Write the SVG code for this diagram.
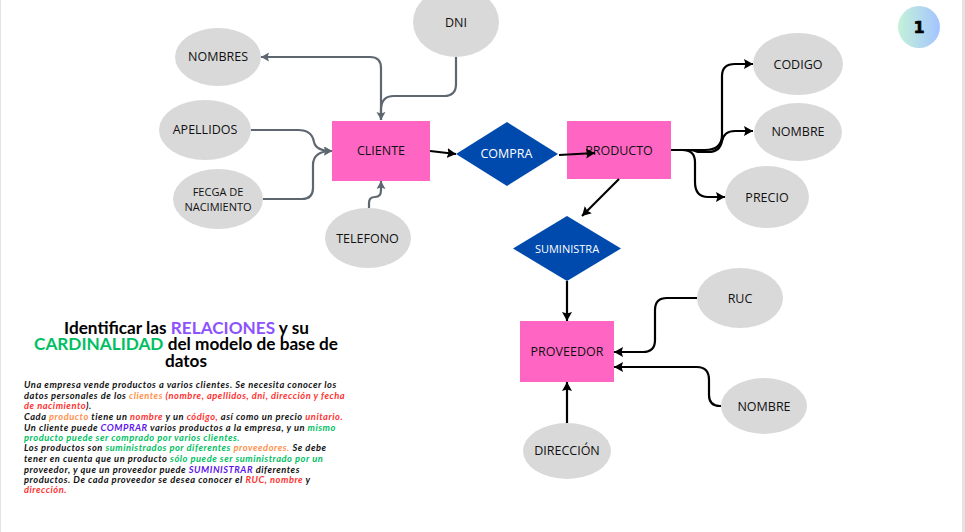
<svg xmlns="http://www.w3.org/2000/svg" width="965" height="532" viewBox="0 0 965 532">
<style>
.attr{fill:#d9d9d9}
.ent{fill:#ff66c4}
.rel{fill:#004aad}
.lb{font-family:"Open Sans",sans-serif;font-size:12.5px;fill:#111;text-anchor:middle}
.lw{font-family:"Open Sans",sans-serif;font-size:12.5px;fill:#fff;text-anchor:middle}
.c{fill:none;stroke-width:2.2;stroke-linejoin:round}
.g{stroke:#5e6770;marker-end:url(#ag)}
.k{stroke:#000;marker-end:url(#ak)}
.h{font-family:Lato,sans-serif;font-weight:700;font-size:17.2px;fill:#000;text-anchor:middle}
.b{font-family:Lato,sans-serif;font-weight:700;font-style:italic;font-size:9.3px;letter-spacing:.53px;fill:#111}
.o{fill:#ff914d}.r{fill:#ff3131}.p{fill:#5e17eb}.v{fill:#00bf63}
</style>
<defs>
<marker id="ag" markerUnits="userSpaceOnUse" markerWidth="10" markerHeight="11" refX="8" refY="4.500" orient="auto"><path d="M0 0L8 4.500L0 9L1.500 4.500Z" fill="#5e6770"/></marker>
<marker id="ak" markerUnits="userSpaceOnUse" markerWidth="11" markerHeight="11" refX="9" refY="5" orient="auto"><path d="M0 0L9 5L0 10L1.500 5Z" fill="#000"/></marker>
<linearGradient id="bd"><stop offset="0" stop-color="#c4f2d8"/><stop offset="1" stop-color="#a3c4ff"/></linearGradient>
</defs>
<rect width="965" height="532" fill="#fff"/>
<rect x="962" width="3" height="532" fill="#e3e3e3"/>
<rect width="1" height="532" fill="#e3e3e3"/>
<g id="n-nombres"><ellipse class="attr" cx="218" cy="57" rx="43" ry="29"/><text class="lb" x="218" y="61">NOMBRES</text></g>
<g id="n-dni"><ellipse class="attr" cx="456" cy="22" rx="43" ry="35"/><text class="lb" x="456" y="27">DNI</text></g>
<g id="n-apellidos"><ellipse class="attr" cx="205" cy="130" rx="46" ry="30"/><text class="lb" x="205" y="134">APELLIDOS</text></g>
<g id="n-fecga"><ellipse class="attr" cx="218" cy="199" rx="45" ry="30"/><text class="lb" style="font-size:11px" x="218" y="196">FECGA DE</text><text class="lb" style="font-size:11px" x="218" y="211">NACIMIENTO</text></g>
<g id="n-telefono"><ellipse class="attr" cx="368" cy="238" rx="43" ry="30"/><text class="lb" x="367.500" y="243">TELEFONO</text></g>
<g id="n-cliente"><rect class="ent" x="332" y="121" width="98" height="60"/><text class="lb" x="381" y="155">CLIENTE</text></g>
<g id="n-compra"><path class="rel" d="M456 154L507 122L558 154L507 186Z"/><text class="lw" x="506.500" y="158">COMPRA</text></g>
<g id="n-producto"><rect class="ent" x="567" y="121" width="104" height="58"/><text class="lb" x="619" y="155">PRODUCTO</text></g>
<g id="n-codigo"><ellipse class="attr" cx="798" cy="64" rx="45" ry="31"/><text class="lb" x="798" y="69">CODIGO</text></g>
<g id="n-nombre"><ellipse class="attr" cx="798" cy="132" rx="44" ry="29"/><text class="lb" x="798" y="136">NOMBRE</text></g>
<g id="n-precio"><ellipse class="attr" cx="767" cy="197" rx="42" ry="31"/><text class="lb" x="767" y="202">PRECIO</text></g>
<g id="n-suministra"><path class="rel" d="M513 248.500L567 216L621 248.500L567 281Z"/><text class="lw" style="font-size:11px" x="567" y="253">SUMINISTRA</text></g>
<g id="n-proveedor"><rect class="ent" x="520" y="321" width="94" height="61"/><text class="lb" x="567" y="356">PROVEEDOR</text></g>
<g id="n-ruc"><ellipse class="attr" cx="740" cy="298" rx="43" ry="30"/><text class="lb" x="740" y="303">RUC</text></g>
<g id="n-nombre2"><ellipse class="attr" cx="764" cy="406" rx="43" ry="28"/><text class="lb" x="764" y="411">NOMBRE</text></g>
<g id="n-direccion"><ellipse class="attr" cx="567" cy="451" rx="44" ry="28"/><text class="lb" x="567" y="455">DIRECCIÓN</text></g>
<g id="connectors">
<path class="c g" d="M381 120V68Q381 57 370 57H261"/>
<path class="c g" d="M456 57V84Q456 96 444 96H394Q381 96 381 110V120"/>
<path class="c g" d="M251 130H298Q312 130 314 142Q316 151 332 151"/>
<path class="c g" d="M263 199H302Q313 199 313 188V165Q313 151 332 151"/>
<path class="c g" d="M369 208V203Q369 197 375 197Q381 197 381 190V181"/>
<path class="c k" d="M430 151L456 154"/>
<path class="c k" d="M559 155L595 153"/>
<path class="c k" d="M671 150H705Q722 150 722 135V76Q722 64 735 64H753"/>
<path class="c k" d="M671 150H688Q694 150 698 152H708Q720 152 722 141Q724 131 735 131H753"/>
<path class="c k" d="M671 150H682Q695 150 695 162V182Q695 197 708 197H725"/>
<path class="c k" d="M619 179L582 216"/>
<path class="c k" d="M567 281V321"/>
<path class="c k" d="M697 298H667Q655 298 655 310V340Q655 352 643 352H614"/>
<path class="c k" d="M721 406H720Q709 406 709 395V380Q709 367 697 367H614"/>
<path class="c k" d="M567 423V382"/>
</g>
<g id="n-badge"><circle cx="919" cy="27" r="21" fill="url(#bd)"/><text x="919" y="33" text-anchor="middle" style="font-family:'DejaVu Sans',sans-serif;font-weight:800;font-size:16px" fill="#000" stroke="#000" stroke-width=".6">1</text></g>
<g id="title">
<text class="h" x="186.500" y="334">Identificar las <tspan fill="#8c52ff">RELACIONES</tspan> y su</text>
<text class="h" x="186" y="350"><tspan class="v">CARDINALIDAD</tspan> del modelo de base de</text>
<text class="h" x="186" y="367">datos</text>
</g>
<g id="body">
<text class="b" x="24" y="388">Una empresa vende productos a varios clientes. Se necesita conocer los</text>
<text class="b" x="24" y="399">datos personales de los <tspan class="o">clientes</tspan> <tspan class="r">(nombre, apellidos, dni, dirección y fecha</tspan></text>
<text class="b" x="24" y="409"><tspan class="r">de nacimiento</tspan>).</text>
<text class="b" x="24" y="420">Cada <tspan class="o">producto</tspan> tiene un <tspan class="r">nombre</tspan> y un <tspan class="r">código,</tspan> así como un precio <tspan class="r">unitario.</tspan></text>
<text class="b" x="24" y="431">Un cliente puede <tspan class="p">COMPRAR</tspan> varios productos a la empresa, y un <tspan class="v">mismo</tspan></text>
<text class="b" x="24" y="441"><tspan class="v">producto puede ser comprado por varios clientes.</tspan></text>
<text class="b" x="24" y="451">Los productos son <tspan class="v">suministrados por diferentes</tspan> <tspan class="o">proveedores.</tspan> Se debe</text>
<text class="b" x="24" y="462">tener en cuenta que un producto <tspan class="v">sólo puede ser suministrado por un</tspan></text>
<text class="b" x="24" y="473">proveedor, y que un proveedor puede <tspan class="p">SUMINISTRAR</tspan> diferentes</text>
<text class="b" x="24" y="483">productos. De cada proveedor se desea conocer el <tspan class="r">RUC, nombre</tspan> y</text>
<text class="b" x="24" y="493"><tspan class="r">dirección.</tspan></text>
</g>
</svg>
